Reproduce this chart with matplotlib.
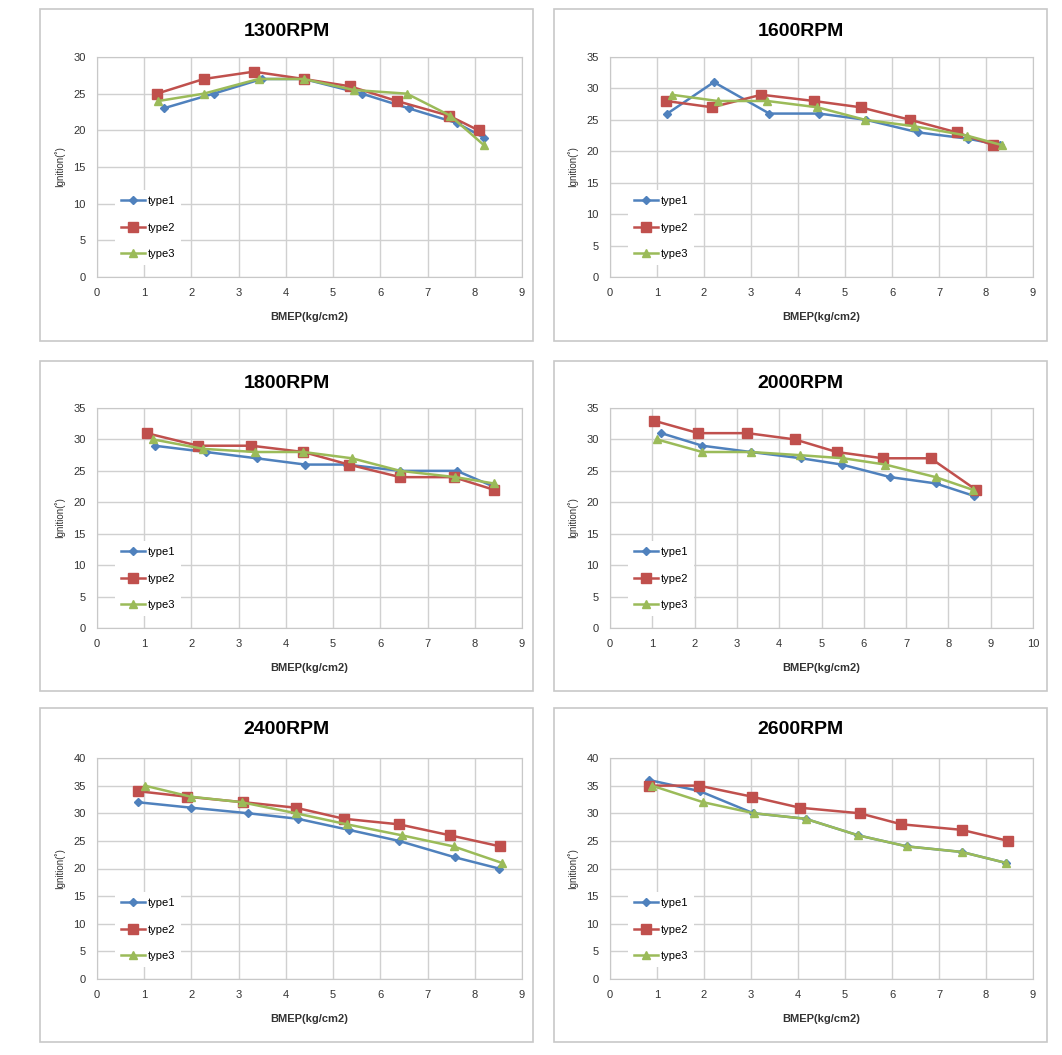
import matplotlib.pyplot as plt
from matplotlib.patches import Rectangle

W, H = 1062, 1055

LABELS = ["type1", "type2", "type3"]
COLORS = ["#4F81BD", "#C0504D", "#9BBB59"]
MARKERS = ["D", "s", "^"]
MSIZES = [4, 7, 6]

# ---- 1300 RPM ----
x1300_t1 = [1.41, 2.47, 3.49, 4.38, 5.61, 6.60, 7.62, 8.19]
y1300_t1 = [23, 25, 27, 27, 25, 23, 21, 19]
x1300_t2 = [1.27, 2.26, 3.32, 4.38, 5.36, 6.35, 7.45, 8.08]
y1300_t2 = [25, 27, 28, 27, 26, 24, 22, 20]
x1300_t3 = [1.30, 2.26, 3.42, 4.38, 5.44, 6.56, 7.48, 8.19]
y1300_t3 = [24, 25, 27, 27, 25.5, 25, 22, 18]

# ---- 1600 RPM ----
x1600_t1 = [1.22, 2.21, 3.39, 4.45, 5.45, 6.56, 7.62, 8.29]
y1600_t1 = [26, 31, 26, 26, 25, 23, 22, 21]
x1600_t2 = [1.20, 2.17, 3.22, 4.34, 5.33, 6.39, 7.38, 8.15]
y1600_t2 = [28, 27, 29, 28, 27, 25, 23, 21]
x1600_t3 = [1.31, 2.29, 3.35, 4.41, 5.43, 6.46, 7.59, 8.33]
y1600_t3 = [29, 28, 28, 27, 25, 24, 22.5, 21]

# ---- 1800 RPM ----
x1800_t1 = [1.22, 2.31, 3.38, 4.41, 5.29, 6.42, 7.62, 8.40]
y1800_t1 = [29, 28, 27, 26, 26, 25, 25, 22.5]
x1800_t2 = [1.05, 2.14, 3.27, 4.37, 5.33, 6.42, 7.55, 8.40]
y1800_t2 = [31, 29, 29, 28, 26, 24, 24, 22]
x1800_t3 = [1.19, 2.25, 3.35, 4.37, 5.40, 6.42, 7.59, 8.40]
y1800_t3 = [30, 28.5, 28, 28, 27, 25, 24, 23]

# ---- 2000 RPM ----
x2000_t1 = [1.21, 2.18, 3.33, 4.52, 5.48, 6.63, 7.70, 8.61]
y2000_t1 = [31, 29, 28, 27, 26, 24, 23, 21]
x2000_t2 = [1.03, 2.09, 3.25, 4.37, 5.36, 6.45, 7.58, 8.65]
y2000_t2 = [33, 31, 31, 30, 28, 27, 27, 22]
x2000_t3 = [1.11, 2.18, 3.33, 4.48, 5.52, 6.51, 7.70, 8.57]
y2000_t3 = [30, 28, 28, 27.5, 27, 26, 24, 22]

# ---- 2400 RPM ----
x2400_t1 = [0.86, 2.00, 3.20, 4.25, 5.33, 6.39, 7.59, 8.51]
y2400_t1 = [32, 31, 30, 29, 27, 25, 22, 20]
x2400_t2 = [0.86, 1.90, 3.10, 4.21, 5.23, 6.39, 7.48, 8.54]
y2400_t2 = [34, 33, 32, 31, 29, 28, 26, 24]
x2400_t3 = [1.01, 1.98, 3.06, 4.21, 5.29, 6.46, 7.55, 8.58]
y2400_t3 = [35, 33, 32, 30, 28, 26, 24, 21]

# ---- 2600 RPM ----
x2600_t1 = [0.84, 1.91, 3.05, 4.16, 5.28, 6.32, 7.48, 8.43]
y2600_t1 = [36, 34, 30, 29, 26, 24, 23, 21]
x2600_t2 = [0.84, 1.89, 3.02, 4.04, 5.31, 6.20, 7.48, 8.47]
y2600_t2 = [35, 35, 33, 31, 30, 28, 27, 25]
x2600_t3 = [0.89, 1.98, 3.06, 4.16, 5.28, 6.32, 7.48, 8.43]
y2600_t3 = [35, 32, 30, 29, 26, 24, 23, 21]

panels = [
    ("1300RPM", [(x1300_t1, y1300_t1), (x1300_t2, y1300_t2), (x1300_t3, y1300_t3)], 30, 9),
    ("1600RPM", [(x1600_t1, y1600_t1), (x1600_t2, y1600_t2), (x1600_t3, y1600_t3)], 35, 9),
    ("1800RPM", [(x1800_t1, y1800_t1), (x1800_t2, y1800_t2), (x1800_t3, y1800_t3)], 35, 9),
    ("2000RPM", [(x2000_t1, y2000_t1), (x2000_t2, y2000_t2), (x2000_t3, y2000_t3)], 35, 10),
    ("2400RPM", [(x2400_t1, y2400_t1), (x2400_t2, y2400_t2), (x2400_t3, y2400_t3)], 40, 9),
    ("2600RPM", [(x2600_t1, y2600_t1), (x2600_t2, y2600_t2), (x2600_t3, y2600_t3)], 40, 9),
]

# layout in pixels
box_cols = [(40, 533), (554, 1047)]
box_rows = [(9, 341), (361, 691), (708, 1042)]
ax_cols = [(97, 522), (610, 1033)]
ax_rows = [(57, 277), (408, 628), (758, 979)]

plt.rcParams['font.family'] = ['Liberation Sans', 'DejaVu Sans']

fig = plt.figure(figsize=(W / 100, H / 100), dpi=100)

for i, (title, series, ymax, xmax) in enumerate(panels):
    r, c = divmod(i, 2)
    bx0, bx1 = box_cols[c]
    by0, by1 = box_rows[r]
    fig.patches.append(Rectangle((bx0 / W, 1 - by1 / H), (bx1 - bx0) / W, (by1 - by0) / H,
                                 transform=fig.transFigure, fill=False,
                                 edgecolor="#c8c8c8", linewidth=1.2))

    x0, x1 = ax_cols[c]
    y0, y1 = ax_rows[r]
    ax = fig.add_axes([x0 / W, 1 - y1 / H, (x1 - x0) / W, (y1 - y0) / H])

    for k, (xs, ys) in enumerate(series):
        ax.plot(xs, ys, color=COLORS[k], marker=MARKERS[k], markersize=MSIZES[k],
                linewidth=1.8, label=LABELS[k], zorder=3 + k)

    ax.set_xlim(0, xmax)
    ax.set_ylim(0, ymax)
    ax.set_xticks(range(0, xmax + 1))
    ax.set_yticks(range(0, ymax + 1, 5))
    ax.grid(True, color="#d0d0d0", linewidth=1)
    ax.set_axisbelow(True)
    for s in ax.spines.values():
        s.set_color("#c8c8c8")
    ax.tick_params(labelsize=8, length=0, pad=8, colors="#333333")

    ax.set_xlabel("BMEP(kg/cm2)", fontsize=8, fontweight="bold", color="#333333", labelpad=10)
    ax.set_ylabel("Ignition(˚)", fontsize=7, color="#333333", labelpad=6)

    fig.text((bx0 + bx1) / 2 / W, 1 - (by0 + 22) / H, title, ha="center", va="center",
             fontsize=14, fontweight="bold")

    leg = ax.legend(loc="lower left", bbox_to_anchor=(0.03, 0.03), fontsize=8,
                    labelspacing=1.5, handlelength=2.2, handletextpad=0.2,
                    borderpad=0.5, frameon=True, fancybox=False)
    leg.get_frame().set_facecolor("white")
    leg.get_frame().set_edgecolor("none")
    leg.get_frame().set_alpha(1)

fig.savefig("out.png", dpi=100, facecolor="white")
